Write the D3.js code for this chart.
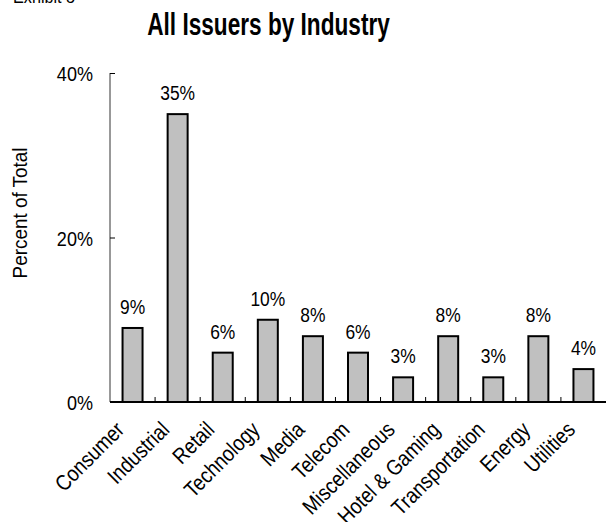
<!DOCTYPE html>
<html>
<head>
<meta charset="utf-8">
<script src="https://cdn.jsdelivr.net/npm/d3@7"></script>
<style>
  html, body { margin: 0; padding: 0; background: #fff; }
  svg text { font-family: "Liberation Sans", Arial, sans-serif; fill: #000; }
</style>
</head>
<body>
<svg id="chart" width="606" height="522"></svg>
<script>
// Share of all issuers, by industry (percent of total)
const categories = ["Consumer", "Industrial", "Retail", "Technology", "Media", "Telecom",
  "Miscellaneous", "Hotel & Gaming", "Transportation", "Energy", "Utilities"];
const values = [9, 35, 6, 10, 8, 6, 3, 8, 3, 8, 4];
const yTicks = [0, 20, 40];

const svg = d3.select("#chart");
const x0 = 110, x1 = 606, y0 = 402, yTop = 73;

const x = d3.scaleBand().domain(categories).range([x0, x1]).paddingInner(0).paddingOuter(0);
const y = d3.scaleLinear().domain([0, 40]).range([y0, yTop]);
const barW = 20;
const cx = d => x(d) + x.bandwidth() / 2;

// Condensed look: squeeze text horizontally along its own baseline
const narrow = (sel, sx) => sel.attr("transform", function () {
  const t = d3.select(this).attr("transform") || "";
  return t + ` scale(${sx},1)`;
});

// Header
svg.append("text").attr("transform", "translate(13,2.5)").attr("font-size", 18)
  .text("Exhibit 8").call(narrow, 0.9);
svg.append("text").attr("transform", "translate(268.5,35)").attr("text-anchor", "middle")
  .attr("font-size", 31).attr("font-weight", "bold").text("All Issuers by Industry")
  .call(narrow, 0.73);

// Y axis
const yAxis = d3.axisLeft(y).tickValues(yTicks).tickSize(-5).tickPadding(0)
  .tickFormat(d => d + "%");
const gy = svg.append("g").attr("transform", `translate(${x0},0)`).call(yAxis);
gy.select(".domain").attr("stroke", "#333").attr("stroke-width", 1).attr("d", `M0,${yTop}V${y0}`);
gy.selectAll(".tick line").attr("stroke", "#000");
gy.selectAll(".tick text").attr("x", null).attr("dy", null)
  .attr("font-size", 21).attr("transform", "translate(-17,7.5)")
  .call(narrow, 0.86);

svg.append("text").attr("transform", `translate(27,213) rotate(-90)`)
  .attr("text-anchor", "middle").attr("font-size", 21).text("Percent of Total")
  .call(narrow, 0.9);

// Bars
svg.append("g").selectAll("rect").data(values).join("rect")
  .attr("x", (d, i) => cx(categories[i]) - barW / 2)
  .attr("y", d => y(d))
  .attr("width", barW)
  .attr("height", d => y0 - y(d))
  .attr("fill", "#c0c0c0").attr("stroke", "#000").attr("stroke-width", 2);

// Value labels
svg.append("g").selectAll("text").data(values).join("text")
  .attr("transform", (d, i) => `translate(${cx(categories[i])},${y(d) - 14})`)
  .attr("text-anchor", "middle").attr("font-size", 20)
  .text(d => d + "%")
  .call(narrow, 0.87);

// X axis
svg.append("line").attr("x1", x0).attr("x2", x1).attr("y1", y0).attr("y2", y0)
  .attr("stroke", "#000").attr("stroke-width", 2);
svg.append("g").selectAll("line").data(categories.slice(1)).join("line")
  .attr("x1", d => x(d)).attr("x2", d => x(d))
  .attr("y1", y0).attr("y2", y0 - 5)
  .attr("stroke", "#000").attr("stroke-width", 1);

svg.append("g").selectAll("text").data(categories).join("text")
  .attr("transform", d => `translate(${cx(d) - 7},431) rotate(-45)`)
  .attr("text-anchor", "end").attr("font-size", 22)
  .text(d => d)
  .call(narrow, 0.86);
</script>
</body>
</html>
